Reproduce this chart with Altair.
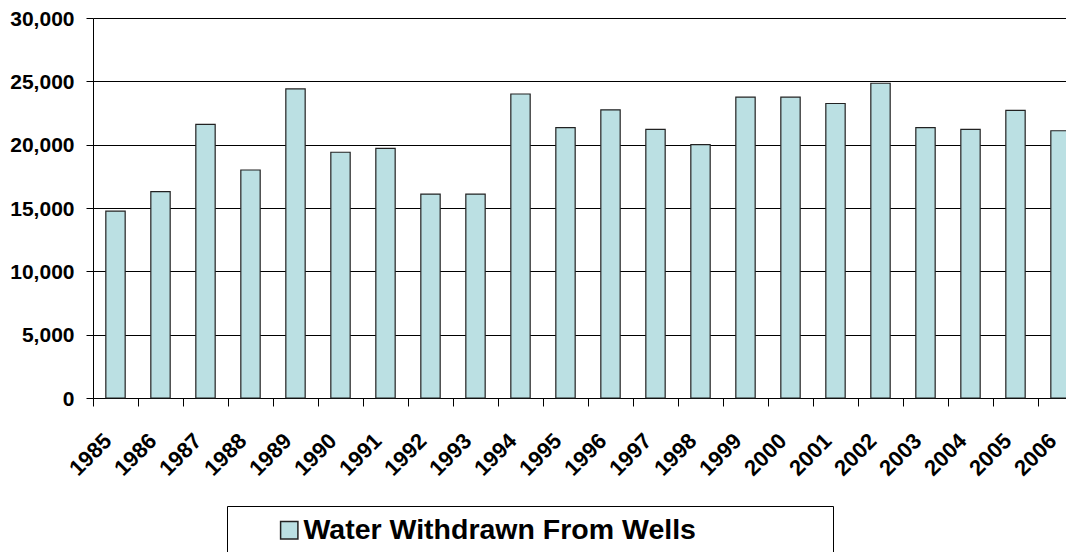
import altair as alt
import pandas as pd

years = ["1985", "1986", "1987", "1988", "1989", "1990", "1991", "1992", "1993", "1994", "1995",
         "1996", "1997", "1998", "1999", "2000", "2001", "2002", "2003", "2004", "2005", "2006"]
withdrawn = [14750, 16300, 21600, 18000, 24400, 19400, 19700, 16100, 16100, 24000, 21350,
             22750, 21200, 20000, 23750, 23750, 23250, 24850, 21350, 21200, 22700, 21100]
series_name = "Water Withdrawn From Wells"
y_ticks = [0, 5000, 10000, 15000, 20000, 25000, 30000]

df = pd.DataFrame({"year": years, "value": withdrawn, "series": [series_name] * len(years)})

# trailing non-breaking spaces (kept by a zero-width space) widen the legend box
pad_text = "\u00a0" * 16 + "\u200b"

chart = alt.Chart(df).mark_bar(
    stroke="#222222", strokeWidth=1.2, width=alt.RelativeBandSize(0.43)
).encode(
    x=alt.X("year:N", sort=years, title=None,
            scale=alt.Scale(paddingInner=0, paddingOuter=0, range=[0, 990]),
            axis=alt.Axis(tickBand="extent", labelAngle=-45, labelAlign="right",
                          labelBaseline="middle", labelOffset=-8, labelPadding=31,
                          tickSize=8, tickColor="#000000", domainColor="#000000",
                          labelFont="Liberation Sans", labelFontSize=22, labelFontWeight="bold",
                          labelColor="#000000", grid=False)),
    y=alt.Y("value:Q", title=None,
            scale=alt.Scale(domain=[0, 30000], nice=False),
            axis=alt.Axis(values=y_ticks, format=",d", tickSize=7, labelPadding=12,
                          labelOffset=1,
                          tickColor="#000000", domainColor="#000000",
                          gridColor="#000000", gridWidth=1, gridOpacity=1,
                          labelFont="Liberation Sans", labelFontSize=21, labelFontWeight="bold",
                          labelColor="#000000")),
    fill=alt.Fill("series:N", title=None,
                  scale=alt.Scale(range=["#BBE0E3"]),
                  legend=alt.Legend(orient="none", legendX=134, legendY=488,
                                    padding=10, strokeColor="#000000", fillColor="#FFFFFF",
                                    symbolType="square", symbolSize=300,
                                    symbolStrokeColor="#222222", symbolStrokeWidth=1.5,
                                    symbolOffset=38, labelOffset=0,
                                    labelFont="Liberation Sans", labelFontSize=28.5,
                                    labelFontWeight="bold", labelColor="#000000",
                                    labelLimit=1000,
                                    labelExpr="datum.label + '" + pad_text + "'")),
).properties(
    width=973, height=380,
    autosize=alt.AutoSizeParams(type="none"),
    padding={"left": 85, "top": 10, "right": 0, "bottom": 154},
).configure_view(stroke=None).configure(background="#FFFFFF")

chart.save("out.html", embed_options={"renderer": "svg", "actions": False})
